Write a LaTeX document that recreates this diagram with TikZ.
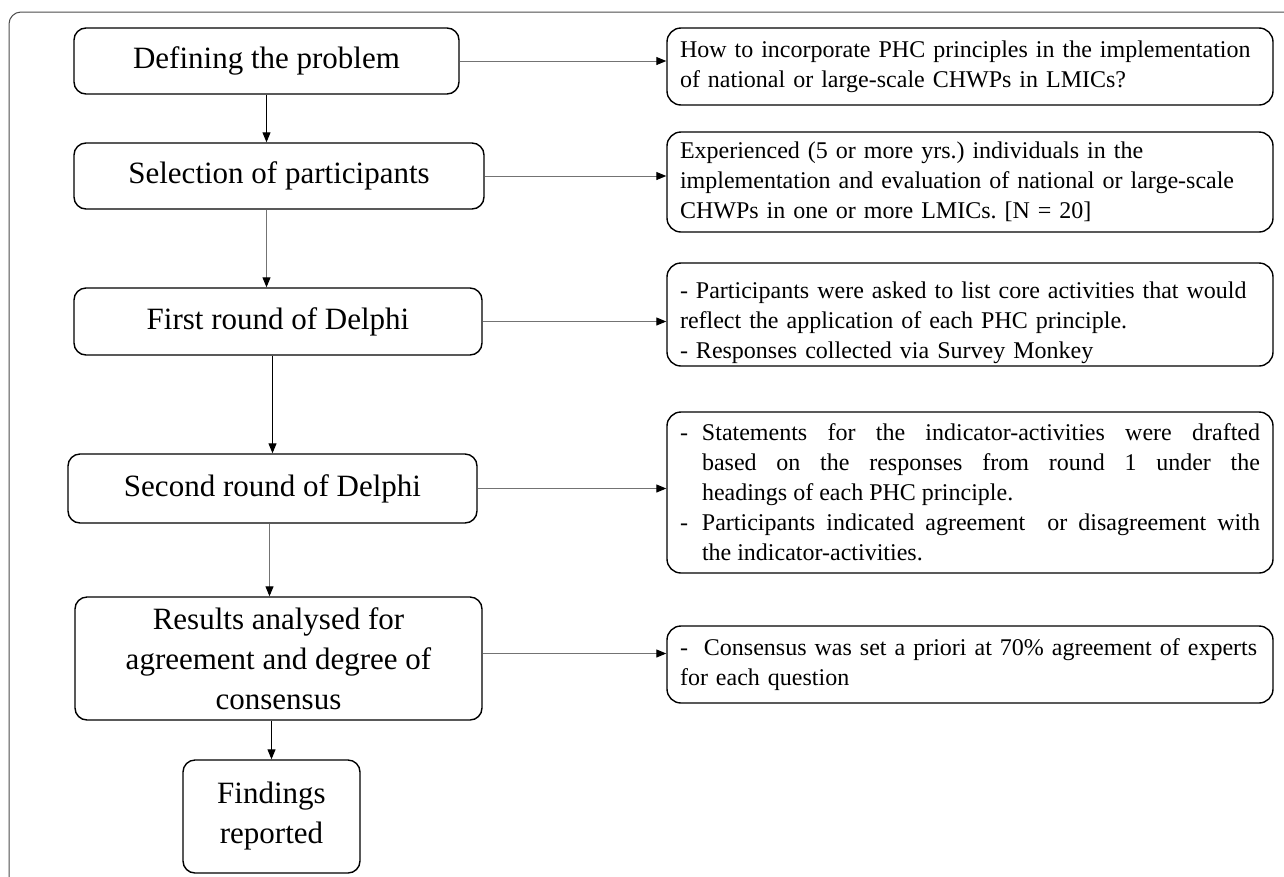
\documentclass[tikz,border=0pt]{standalone}
\usepackage{fontspec}
\setmainfont{Liberation Serif}
\usetikzlibrary{arrows.meta}
\frenchspacing

\begin{document}
\begin{tikzpicture}[x=1pt, y=-1pt,
	stage/.style={draw, line width=1.4pt, rounded corners=12pt, align=center, inner sep=0pt, font=\fontsize{31}{40}\selectfont},
	note/.style={draw, line width=1.4pt, rounded corners=14pt, inner xsep=13pt, inner ysep=0pt, text width=580pt, align=left, font=\fontsize{24}{30}\selectfont},
	flow/.style={line width=1pt, -{Triangle[length=10pt,width=8pt,color=black]}},
	flowgray/.style={flow, draw=black!55}]

	\useasboundingbox (0,0) rectangle (1284,876);
	\draw[black!70, line width=1pt, rounded corners=12pt] (1300,12) -- (9,12) -- (9,890); % outer frame

	% left column
	\node[stage, minimum width=385pt, minimum height=66pt] (define) at (266.5,61) {Defining the problem};
	\node[stage, minimum width=410pt, minimum height=66pt] (select) at (279,176) {Selection of participants};
	\node[stage, minimum width=408pt, minimum height=67pt] (first) at (278,321.5) {First round of Delphi};
	\node[stage, minimum width=409pt, minimum height=69pt] (second) at (272.5,488.5) {Second round of Delphi};
	\node[stage, minimum width=407pt, minimum height=123pt] (results) at (278.5,658.5) {Results analysed for\\ agreement and degree of\\ consensus};
	\node[stage, minimum width=177pt, minimum height=113pt] (findings) at (271.5,816.5) {Findings\\ reported};

	% right column
	\node[note, minimum height=77pt] (howto) at (970,66.5) {How to incorporate PHC principles in the implementation\\ of national or large-scale CHWPs in LMICs?};
	\node[note, minimum height=100pt] (experts) at (970,182) {Experienced (5 or more yrs.) individuals in the\\ implementation and evaluation of national or large-scale\\ CHWPs in one or more LMICs. [N = 20]};
	\node[note, minimum height=103pt] (list) at (970,314.5) {\rule{0pt}{34pt}- Participants were asked to list core activities that would\\ reflect the application of each PHC principle.\\ - Responses collected via Survey Monkey};
	\node[note, minimum height=161pt, align=justify] (rating) at (970,492.5) {%
		\hangindent=22pt\hangafter=1\noindent\makebox[22pt][l]{-}Statements for the indicator-activities were drafted\linebreak based on the responses from round 1 under the\linebreak headings of each PHC principle.\par
		\hangindent=22pt\hangafter=1\noindent\makebox[22pt][l]{-}Participants indicated agreement\ \ or disagreement with\linebreak the indicator-activities.\par};
	\node[note, minimum height=77pt] (consensus) at (970,664.5) {-\ \ Consensus was set a priori at 70\% agreement of experts\\ for each question};

	% vertical arrows
	\draw[flow] (define.south) -- (define.south |- select.north);
	\draw[flowgray] (select.south -| define.south) -- (first.north -| define.south);
	\draw[flow] (first.south -| second.north) -- (second.north);
	\draw[flowgray] ([xshift=-3pt]second.south) -- ([xshift=-3pt]second.south |- results.north);
	\draw[flow] (results.south -| findings.north) -- (findings.north);

	% horizontal arrows
	\draw[flowgray] (define.east) -- (define.east -| howto.west);
	\draw[flowgray] (select.east) -- (select.east -| experts.west);
	\draw[flowgray] (first.east) -- (first.east -| list.west);
	\draw[flowgray] (second.east) -- (second.east -| rating.west);
	\draw[flowgray] ([yshift=5pt]results.east) -- ([yshift=5pt]results.east -| consensus.west);
\end{tikzpicture}
\end{document}
